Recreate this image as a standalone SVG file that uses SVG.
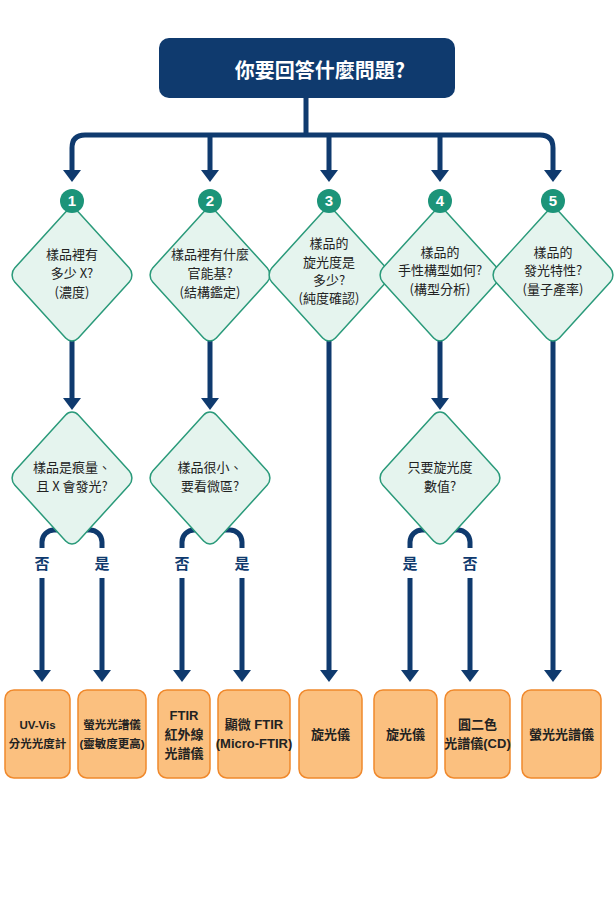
<svg xmlns="http://www.w3.org/2000/svg" width="614" height="922" viewBox="0 0 614 922">
<style>
.ln{fill:none;stroke:#0f3a6e;stroke-width:5}
.ah{fill:#0f3a6e}
.dm{fill:#e5f4ee;stroke:#2a9a7a;stroke-width:1.5}
.num{fill:#1c9479}
.nt{font-family:"Liberation Sans",sans-serif;font-weight:bold;font-size:15px;fill:#fff;text-anchor:middle}
.q{font-family:"Noto Sans CJK TC","Liberation Sans",sans-serif;font-size:13px;fill:#222;text-anchor:middle}
.bx{fill:#fbc07f;stroke:#f0892c;stroke-width:1.5}
.bt{font-family:"Liberation Sans","Noto Sans CJK TC",sans-serif;font-weight:bold;font-size:13px;fill:#222;text-anchor:middle}
.sm{font-size:11.5px}
.yn{font-family:"Noto Sans CJK TC",sans-serif;font-weight:bold;font-size:15px;fill:#0f3a6e;text-anchor:middle}
</style>
<defs>
<path id="a" d="M-9,0 H9 L0,12 Z" class="ah"/>
<g id="d"><rect x="-45" y="-45" width="90" height="90" rx="9" transform="scale(1,1.1) rotate(45)" class="dm" vector-effect="non-scaling-stroke"/></g>
</defs>
<rect width="614" height="922" fill="#fff"/>
<g id="connectors">
<path class="ln" d="M306,98 V135 M72,172 V148 Q72,135 85,135 H540 Q553,135 553,148 V172 M210,135 V172 M329,135 V172 M440,135 V172"/>
<use href="#a" x="72" y="170"/><use href="#a" x="210" y="170"/><use href="#a" x="329" y="170"/><use href="#a" x="440" y="170"/><use href="#a" x="553" y="170"/>
<path class="ln" d="M72,340 V400 M210,340 V400 M440,340 V400 M329,340 V672 M553,340 V672"/>
<use href="#a" x="72" y="398"/><use href="#a" x="210" y="398"/><use href="#a" x="440" y="398"/><use href="#a" x="329" y="670"/><use href="#a" x="553" y="670"/>
<path class="ln" d="M42,548 V542 A12,12 0 0 1 54,530 H90 A12,12 0 0 1 102,542 V548 M182,548 V542 A12,12 0 0 1 194,530 H230 A12,12 0 0 1 242,542 V548 M410,548 V542 A12,12 0 0 1 422,530 H458 A12,12 0 0 1 470,542 V548"/>
<path class="ln" d="M42,578 V672 M102,578 V672 M182,578 V672 M242,578 V672 M410,578 V672 M470,578 V672"/>
<use href="#a" x="42" y="670"/><use href="#a" x="102" y="670"/><use href="#a" x="182" y="670"/><use href="#a" x="242" y="670"/><use href="#a" x="410" y="670"/><use href="#a" x="470" y="670"/>
<text class="yn" x="42" y="569">否</text><text class="yn" x="102" y="569">是</text>
<text class="yn" x="182" y="569">否</text><text class="yn" x="242" y="569">是</text>
<text class="yn" x="410" y="569">是</text><text class="yn" x="470" y="569">否</text>
</g>
<g id="title"><rect x="159" y="38" width="296" height="60" rx="10" fill="#0f3a6e"/>
<text x="320" y="78" font-family="Noto Sans CJK TC,sans-serif" font-weight="bold" font-size="20" fill="#fff" text-anchor="middle">你要回答什麼問題?</text></g>
<g id="q1"><use href="#d" transform="translate(72,275)"/><circle class="num" cx="72" cy="201" r="12"/><text class="nt" x="72" y="206">1</text>
<text class="q" x="72" y="259">樣品裡有</text><text class="q" x="72" y="278">多少 X?</text><text class="q" x="72" y="297">(濃度)</text></g>
<g id="q2"><use href="#d" transform="translate(210,275)"/><circle class="num" cx="210" cy="201" r="12"/><text class="nt" x="210" y="206">2</text>
<text class="q" x="210" y="259">樣品裡有什麼</text><text class="q" x="210" y="278">官能基?</text><text class="q" x="210" y="297">(結構鑑定)</text></g>
<g id="q3"><use href="#d" transform="translate(329,275)"/><circle class="num" cx="329" cy="201" r="12"/><text class="nt" x="329" y="206">3</text>
<text class="q" x="329" y="248">樣品的</text><text class="q" x="329" y="267">旋光度是</text><text class="q" x="329" y="285">多少?</text><text class="q" x="329" y="303">(純度確認)</text></g>
<g id="q4"><use href="#d" transform="translate(440,275)"/><circle class="num" cx="440" cy="201" r="12"/><text class="nt" x="440" y="206">4</text>
<text class="q" x="440" y="257">樣品的</text><text class="q" x="440" y="275">手性構型如何?</text><text class="q" x="440" y="294">(構型分析)</text></g>
<g id="q5"><use href="#d" transform="translate(553,275)"/><circle class="num" cx="553" cy="201" r="12"/><text class="nt" x="553" y="206">5</text>
<text class="q" x="553" y="257">樣品的</text><text class="q" x="553" y="275">發光特性?</text><text class="q" x="553" y="294">(量子產率)</text></g>
<g id="q1b"><use href="#d" transform="translate(72,478)"/><text class="q" x="72" y="472">樣品是痕量、</text><text class="q" x="72" y="491">且 X 會發光?</text></g>
<g id="q2b"><use href="#d" transform="translate(210,478)"/><text class="q" x="210" y="472">樣品很小、</text><text class="q" x="210" y="491">要看微區?</text></g>
<g id="q4b"><use href="#d" transform="translate(440,478)"/><text class="q" x="440" y="472">只要旋光度</text><text class="q" x="440" y="491">數值?</text></g>
<g id="b1"><rect class="bx" x="5" y="690" width="65" height="88" rx="9"/><text class="bt sm" x="37.5" y="729">UV-Vis</text><text class="bt sm" x="37.5" y="748">分光光度計</text></g>
<g id="b2"><rect class="bx" x="78" y="690" width="68" height="88" rx="9"/><text class="bt sm" x="112" y="729">螢光光譜儀</text><text class="bt sm" x="112" y="748">(靈敏度更高)</text></g>
<g id="b3"><rect class="bx" x="158" y="690" width="52" height="88" rx="9"/><text class="bt" x="184" y="720">FTIR</text><text class="bt" x="184" y="739">紅外線</text><text class="bt" x="184" y="758">光譜儀</text></g>
<g id="b4"><rect class="bx" x="218" y="690" width="72" height="88" rx="9"/><text class="bt" x="254" y="729">顯微 FTIR</text><text class="bt" x="254" y="748">(Micro-FTIR)</text></g>
<g id="b5"><rect class="bx" x="299" y="690" width="63" height="88" rx="9"/><text class="bt" x="330.5" y="739">旋光儀</text></g>
<g id="b6"><rect class="bx" x="374" y="690" width="63" height="88" rx="9"/><text class="bt" x="405.5" y="739">旋光儀</text></g>
<g id="b7"><rect class="bx" x="445" y="690" width="65" height="88" rx="9"/><text class="bt" x="477.5" y="729">圓二色</text><text class="bt" x="477.5" y="748">光譜儀(CD)</text></g>
<g id="b8"><rect class="bx" x="522" y="690" width="79" height="88" rx="9"/><text class="bt" x="561.5" y="739">螢光光譜儀</text></g>
</svg>
